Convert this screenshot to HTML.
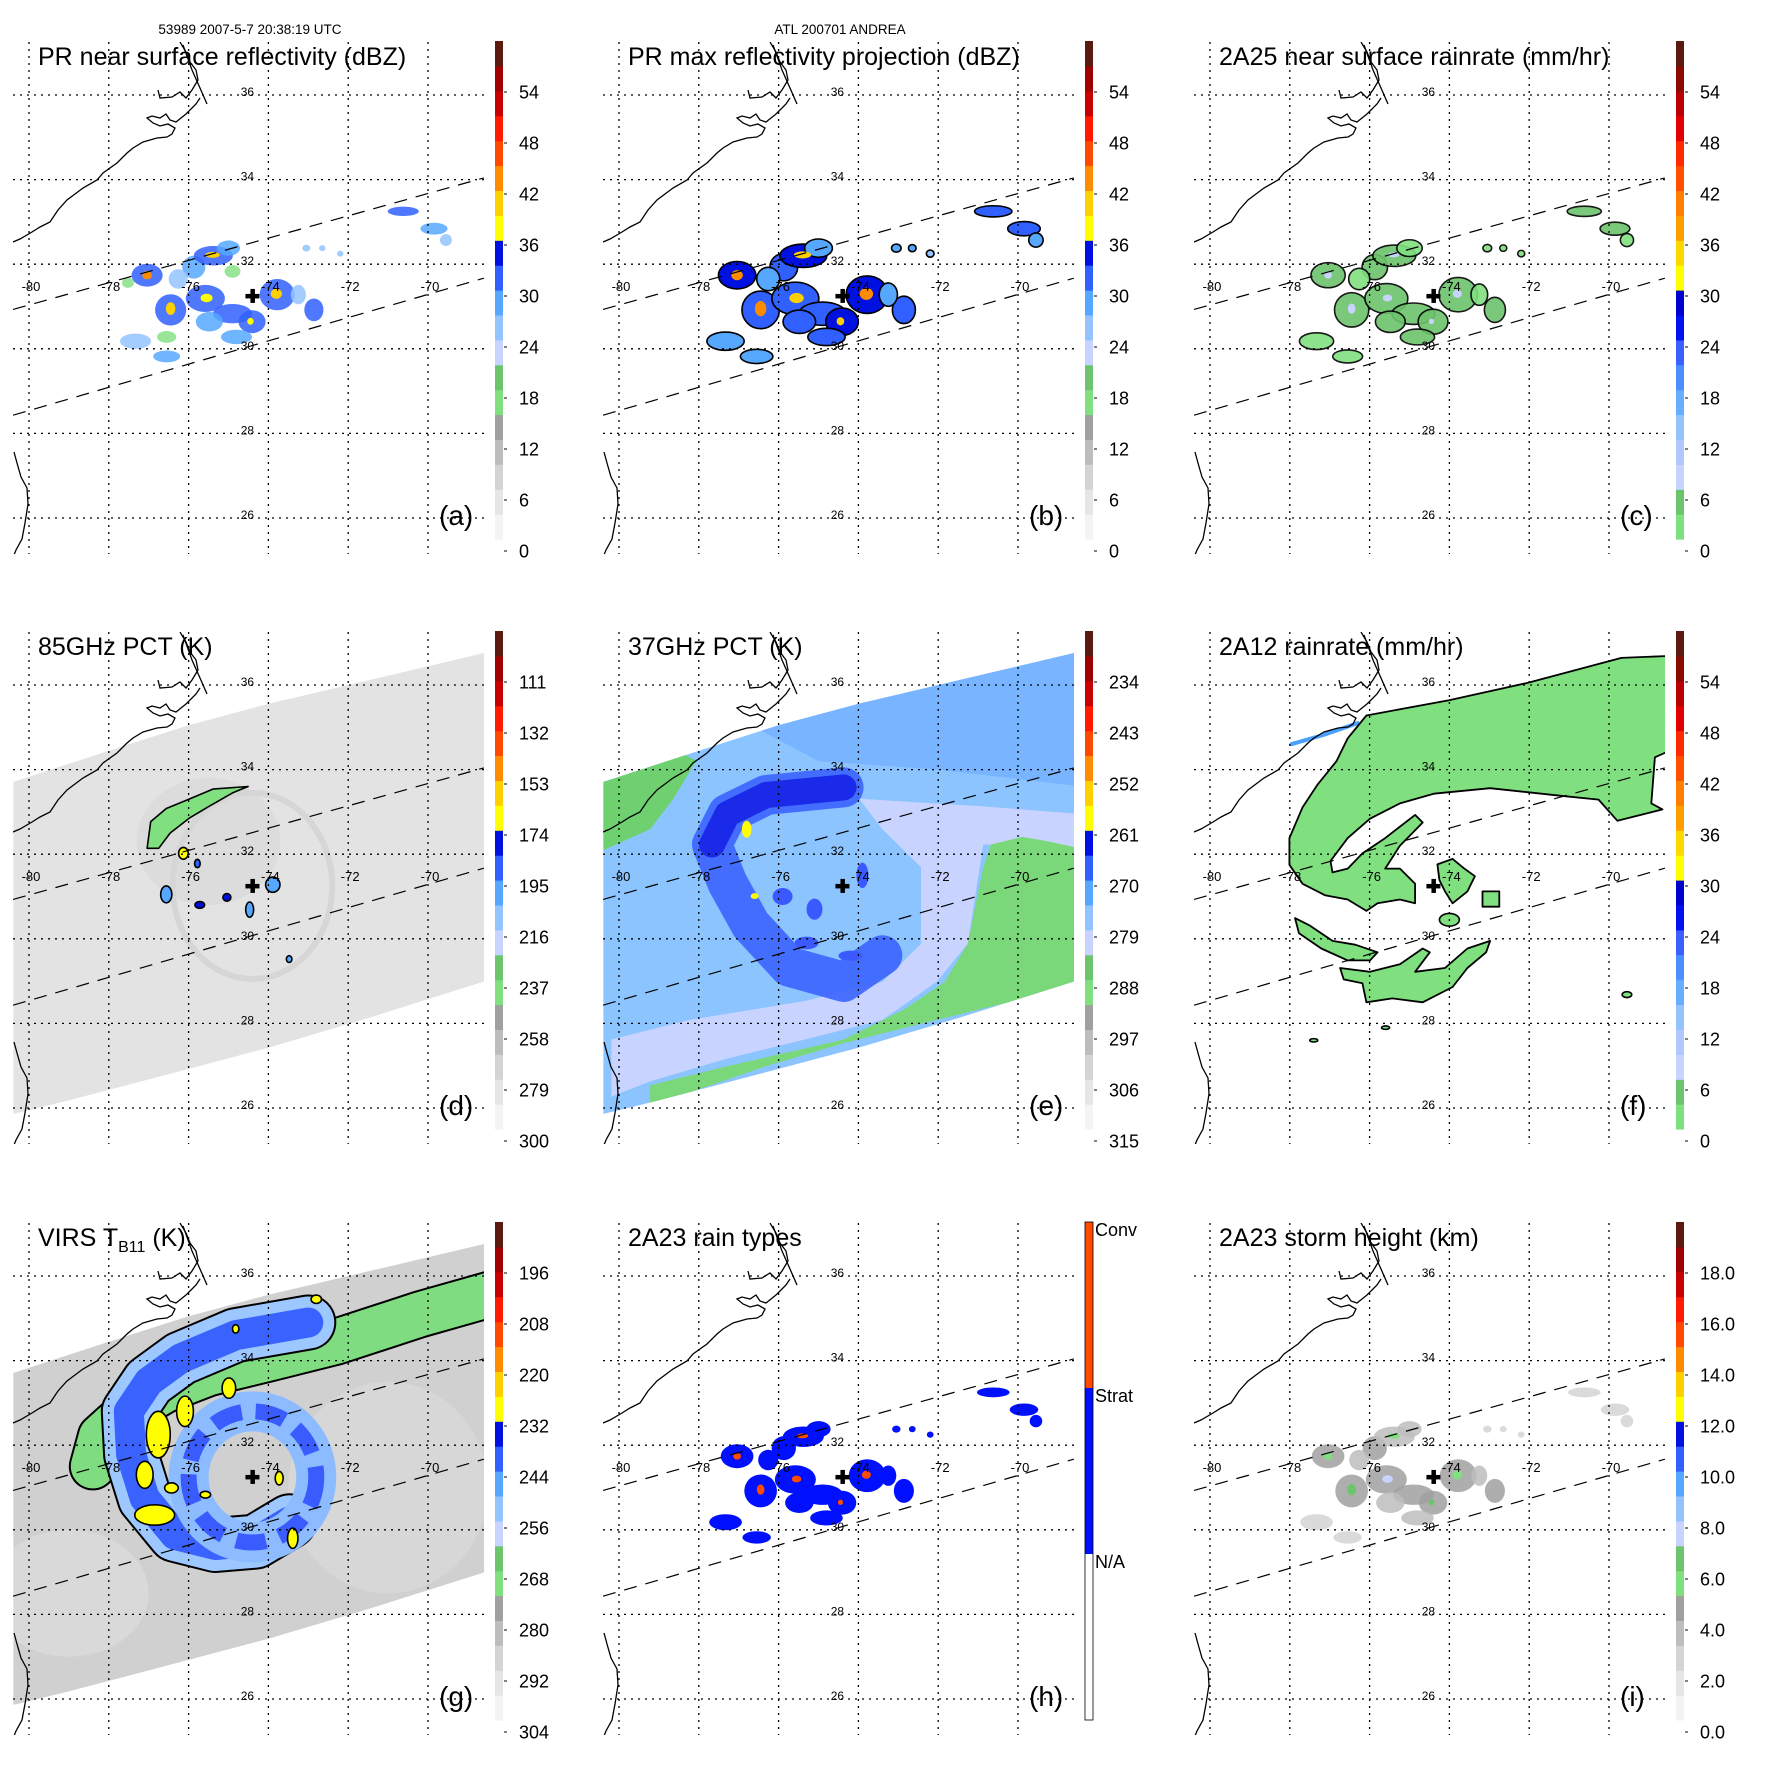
<!DOCTYPE html>
<html>
<head>
<meta charset="utf-8">
<style>
html,body{margin:0;padding:0;background:#fff;}
svg{display:block;font-family:"Liberation Sans",Arial,sans-serif;}
</style>
</head>
<body>
<svg id="chart" width="1771" height="1771" viewBox="0 0 1771 1771" xmlns="http://www.w3.org/2000/svg">
<defs>
<clipPath id="mapclip"><rect x="13" y="42" width="471" height="512"/></clipPath>
<clipPath id="swathclip"><polygon id="swathpoly" points="0,0"/></clipPath>
</defs>
<text x="250" y="34" font-size="13.5" text-anchor="middle">53989 2007-5-7 20:38:19 UTC</text>
<text x="840" y="34" font-size="13.5" text-anchor="middle">ATL 200701 ANDREA</text>
</svg>
<script>
// ---------- axes / ticks ----------
const lonTicks=[-80,-78,-76,-74,-72,-70];
const latTicks=[36,34,32,30,28,26];
const panelTitles=['PR near surface reflectivity (dBZ)','PR max reflectivity projection (dBZ)','2A25 near surface rainrate (mm/hr)','85GHz PCT (K)','37GHz PCT (K)','2A12 rainrate (mm/hr)','VIRS','2A23 rain types','2A23 storm height (km)'];
const panelLetters=['(a)','(b)','(c)','(d)','(e)','(f)','(g)','(h)','(i)'];
const cbLabelsDbz=['0','6','12','18','24','30','36','42','48','54'];
const cbLabelsRain=['0','6','12','18','24','30','36','42','48','54'];
const cbLabels85=['300','279','258','237','216','195','174','153','132','111'];
const cbLabels37=['315','306','297','288','279','270','261','252','243','234'];
const cbLabelsVirs=['304','292','280','268','256','244','232','220','208','196'];
const cbLabelsHeight=['0.0','2.0','4.0','6.0','8.0','10.0','12.0','14.0','16.0','18.0'];
const cbLabelsType=['Conv','Strat','N/A'];
const paletteA=['#f4f4f4','#e6e6e6','#d4d4d4','#bdbdbd','#a0a0a0','#80e080','#6cc46c','#c8d4ff','#94c4ff','#56a8ff','#3060ff','#0010e0','#ffff00','#ffd000','#ff8c00','#ff4800','#ff1a00','#c80000','#a00000','#5a1a10'];
const paletteC=['#80e080','#6cc46c','#c8d4ff','#b0c8ff','#94c4ff','#64b0ff','#4a90ff','#3a60ff','#0010f0','#0000d0','#ffff00','#ffd800','#ff9c00','#ff8000','#ff5000','#ff2a00','#e00000','#b80000','#8a0a00','#5a1a10'];

// ---------- geography ----------
const stormCenter=[-74.4,31.25];
const prSwathUpper=[[-80.4,30.93],[-68.6,34.04]];
const prSwathLower=[[-80.4,28.43],[-68.6,31.67]];
const tmiSwath=[[-80.39,33.71],[-77.95,34.46],[-76.0,35.05],[-73.98,35.56],[-71.45,36.12],[-68.4,36.8],[-68.4,29.05],[-71.45,28.14],[-73.98,27.43],[-76.51,26.8],[-79.04,26.17],[-80.39,25.86]];
const coastPx=[
 [[13,242],[20,239],[32,232],[40,227],[50,222],[58,210],[67,200],[83,188],[97,180],[103,173],[117,163],[127,153],[133,148],[143,142],[157,138],[167,137],[172,134],[175,128],[168,124],[160,126],[153,123],[147,118],[152,116],[160,118],[166,114],[170,120],[176,122],[181,118],[186,114],[190,110],[196,104],[200,98]],
 [[158,90],[160,98],[172,97],[180,92],[186,98],[192,90],[198,80],[196,70],[190,62],[186,52],[180,42]],
 [[183,45],[192,70],[200,88],[207,104]],
 [[14,452],[17,463],[21,477],[27,488],[28,504],[25,523],[22,539],[16,550],[14,555]]
];

// ---------- PR data ----------
const prBlobs=[[-77.04,31.74,0.39,0.27],[-76.45,30.92,0.39,0.37],[-75.87,31.93,0.29,0.27],[-75.38,32.20,0.49,0.23],[-75.58,31.19,0.49,0.32],[-75.00,32.38,0.29,0.18],[-74.90,30.83,0.49,0.23],[-74.41,30.64,0.34,0.27],[-74.80,30.28,0.39,0.17],[-73.78,31.28,0.44,0.37],[-72.86,30.92,0.24,0.27],[-75.48,30.64,0.34,0.23],[-76.55,29.82,0.34,0.14],[-77.33,30.18,0.39,0.18],[-76.26,31.65,0.24,0.23],[-73.25,31.28,0.19,0.23],[-70.62,33.25,0.39,0.11],[-69.85,32.84,0.34,0.14],[-69.55,32.57,0.15,0.14],[-73.05,32.38,0.10,0.08],[-72.65,32.38,0.08,0.07],[-72.2,32.25,0.08,0.07]];
const nearSurfDbz=[31,30,29,31,30,27,30,31,29,32,30,28,27,24,26,25,30,29,26,26,25,24];
const maxProjDbz=[33,32,31,33,32,29,32,33,31,34,32,30,29,27,28,27,32,31,28,28,27,26];
const rainRate2A25=[4,5,3,4,4,2,4,5,3,5,4,3,2,2,2,2,4,3,2,2,1,1];
const rainType=[1,1,1,1,1,1,1,1,1,1,1,1,1,1,1,1,1,1,1,1,1,1];
const stormHeight=[4.5,4,4.2,3.5,4.5,3,4.2,4.5,3.5,4.8,4,3,2.5,2,3,3,2.5,2.5,2,2,2,2];
const prCores=[[-77.04,31.74,0.12,0.10],[-76.45,30.95,0.12,0.15],[-75.40,32.22,0.18,0.07],[-75.55,31.20,0.15,0.10],[-73.80,31.30,0.14,0.12],[-74.45,30.65,0.08,0.08]];
const coreDbz=[42,40,39,38,40,37];
const coreMaxDbz=[44,42,40,41,42,39];
const coreRain=[8,7,6,7,8,6];
const coreType=[2,2,2,2,2,2];
const coreHeight=[5.5,6,5.5,7.5,5.8,6.5];
const lightSpeckles=[[-76.55,30.28,0.24,0.14],[-74.9,31.83,0.2,0.15],[-77.52,31.56,0.15,0.12]];
const lightSpeckleDbz=[17,17,17];

// ---------- 85 GHz ----------
const pct85Band=[[-77.04,32.14],[-76.95,32.77],[-76.56,33.08],[-76.07,33.27],[-75.39,33.54],[-74.51,33.60],[-74.90,33.45],[-75.49,33.13],[-75.97,32.86],[-76.46,32.50],[-76.75,32.14]];
const pct85Cells=[[-76.56,31.05,0.14,0.2],[-74.47,30.69,0.1,0.18],[-73.89,31.28,0.18,0.18],[-75.72,30.80,0.12,0.08],[-75.04,30.98,0.1,0.09],[-76.13,32.02,0.12,0.14],[-75.78,31.78,0.07,0.1],[-73.48,29.52,0.07,0.08]];
const pct85CellK=[235,233,236,220,222,215,225,236];

// ---------- 37 GHz ----------
const pct37Lavender=[[-73.98,33.31],[-70.87,33.13],[-68.45,32.95],[-68.45,32.14],[-70.87,32.23],[-71.26,29.88],[-72.04,28.98],[-73.40,28.08],[-75.34,27.62],[-77.28,27.17],[-79.22,26.63],[-80.19,26.27],[-80.19,27.62],[-78.25,28.08],[-75.34,28.53],[-73.40,28.98],[-72.43,29.88],[-72.43,31.69],[-73.40,32.59]];
const pct37GreenWest=[[-80.5,33.85],[-78.64,34.48],[-78.06,34.21],[-78.64,33.31],[-79.22,32.59],[-80.5,32.05]];
const pct37GreenEast=[[-70.68,32.23],[-69.9,32.41],[-69.32,32.32],[-68.45,32.14],[-68.45,28.89],[-70.49,28.44],[-72.43,27.99],[-74.37,27.53],[-76.31,26.99],[-78.25,26.36],[-79.22,26.09],[-79.22,26.54],[-77.28,26.99],[-74.37,27.62],[-72.82,28.35],[-71.84,28.98],[-71.26,29.88],[-71.07,30.78],[-70.87,31.69]];
const pct37Upper=[[-77.0,35.2],[-68.4,37.0],[-68.4,33.6],[-72.0,34.0],[-75.0,34.2]];
const pct37Arc=[[-74.37,33.58],[-76.31,33.40],[-77.28,32.95],[-77.67,32.23],[-77.28,31.32],[-76.70,30.33],[-75.73,29.34],[-74.37,28.98],[-73.40,29.61]];
const pct37Spots=[[-75.9,31.0,0.25,0.2],[-75.1,30.7,0.2,0.25],[-73.9,31.5,0.15,0.3],[-75.3,29.9,0.3,0.15],[-74.2,29.6,0.3,0.12]];
const pct37Warm=[[-76.80,32.59,0.12,0.2],[-76.60,31.01,0.1,0.07]];

// ---------- 2A12 ----------
const rain2A12Main=[[-76.08,35.28],[-74.01,35.64],[-72.04,36.05],[-69.69,36.64],[-68.42,36.69],[-68.42,34.47],[-68.85,34.29],[-68.94,33.20],[-68.66,33.06],[-69.79,32.79],[-70.26,33.29],[-71.20,33.38],[-72.98,33.56],[-74.39,33.43],[-75.24,33.20],[-75.99,32.84],[-76.55,32.38],[-76.98,31.84],[-76.93,31.57],[-76.55,31.66],[-76.18,32.02],[-75.61,32.38],[-74.86,32.93],[-74.67,32.75],[-75.24,32.20],[-75.61,31.66],[-75.24,31.66],[-74.86,31.30],[-74.86,30.84],[-75.24,30.93],[-75.80,30.84],[-76.08,30.66],[-76.55,30.93],[-77.12,31.03],[-77.68,31.30],[-78.01,31.75],[-78.01,32.38],[-77.68,33.11],[-77.30,33.65],[-76.83,34.20],[-76.55,34.74]];
const rain2A12Core=[[-74.30,31.76],[-73.92,31.89],[-73.64,31.67],[-73.36,31.48],[-73.55,31.12],[-73.92,30.84],[-74.11,31.12],[-74.25,31.39]];
const rain2A12East=[[-73.17,31.12],[-72.75,31.12],[-72.75,30.76],[-73.17,30.76]];
const rain2A12BandA=[[-77.87,30.49],[-77.49,30.31],[-76.93,29.95],[-76.36,29.86],[-75.80,29.68],[-75.99,29.49],[-76.55,29.49],[-77.21,29.77],[-77.77,30.13]];
const rain2A12BandB=[[-76.74,29.31],[-75.99,29.22],[-75.24,29.40],[-74.67,29.77],[-74.49,29.68],[-74.86,29.22],[-74.11,29.31],[-73.55,29.77],[-72.98,29.95],[-73.08,29.68],[-73.55,29.31],[-73.92,28.86],[-74.67,28.50],[-75.43,28.59],[-76.08,28.50],[-76.18,28.95],[-76.65,29.04]];
const rain2A12Small=[[-74.0,30.45,0.25,0.15],[-69.55,28.68,0.12,0.07],[-75.6,27.9,0.1,0.04],[-77.4,27.6,0.1,0.04]];
const rain2A12Coastal=[[-77.96,34.6],[-77.12,34.83],[-76.3,35.1]];

// ---------- VIRS ----------
const virsGreenArc=[[-68.3,35.6],[-70.18,35.1],[-72.29,34.45],[-73.98,34.05],[-75.50,33.7],[-76.6,33.3],[-77.5,32.8],[-78.2,32.2],[-78.4,31.5]];
const virsBlueArc=[[-73.0,34.9],[-74.82,34.6],[-76.2,34.05],[-77.0,33.5],[-77.5,32.8],[-77.44,31.78],[-77.10,30.75],[-76.34,29.88],[-75.33,29.64],[-74.32,29.72],[-73.47,30.20]];
const virsCold=[[-76.09,32.80,0.21,0.36],[-76.76,32.25,0.30,0.55],[-77.10,31.30,0.21,0.32],[-76.85,30.35,0.5,0.24],[-74.99,33.35,0.17,0.24],[-73.73,31.22,0.1,0.16],[-73.39,29.80,0.13,0.24],[-76.43,30.99,0.17,0.12],[-75.58,30.83,0.13,0.08],[-72.80,35.45,0.13,0.1],[-74.82,34.75,0.08,0.1]];
const virsColdK=[230,228,230,229,231,231,230,231,231,231,231];

const NS='http://www.w3.org/2000/svg';
const svg=document.getElementById('chart');
function X(lon){return 29+(lon+80)*39.9;}
function Y(lat){return 95+(36-lat)*42.3;}
function RX(d){return d*39.9;}
function RY(d){return d*42.3;}
function el(tag,attrs,parent){const e=document.createElementNS(NS,tag);for(const k in attrs)e.setAttribute(k,attrs[k]);parent.appendChild(e);return e;}
function pts(arr){return arr.map(p=>X(p[0]).toFixed(1)+','+Y(p[1]).toFixed(1)).join(' ');}
function colA(v,scale){const i=Math.max(0,Math.min(19,Math.floor(v/scale)));return paletteA[i];}
function colC(v){const i=Math.max(0,Math.min(19,Math.floor(v/3)));return paletteC[i];}
document.getElementById('swathpoly').setAttribute('points',pts(tmiSwath));

function ellipses(parent,list,colors,name,stroke,grow,op){
  list.forEach((b,i)=>{
    const g=grow||1;
    const e=el('ellipse',{cx:X(b[0]),cy:Y(b[1]),rx:RX(b[2])*g,ry:RY(b[3])*g,fill:colors[i],opacity:op||1},parent);
    if(stroke){e.setAttribute('stroke','#000');e.setAttribute('stroke-width','1.6');}
    
    
  });
}
function poly(parent,arr,fill,name,stroke,sw){
  const p=el('polygon',{points:pts(arr),fill:fill,'stroke-linejoin':'round'},parent);
  if(stroke){p.setAttribute('stroke',stroke);p.setAttribute('stroke-width',sw||1.5);}
  
  
  return p;
}
function line(parent,arr,color,w,name,op){
  const p=el('polyline',{points:pts(arr),fill:'none',stroke:color,'stroke-width':w,'stroke-linecap':'round','stroke-linejoin':'round',opacity:op||1},parent);
  
  
  return p;
}

function drawCoast(m){
  coastPx.forEach(c=>{
    const p=el('polyline',{points:c.map(q=>q.join(',')).join(' '),fill:'none',stroke:'#000','stroke-width':1.3},m);
    
    
  });
}
function drawGrid(g){
  lonTicks.forEach(lon=>{
    const l=el('line',{x1:X(lon),x2:X(lon),y1:42,y2:554,stroke:'#000','stroke-width':1.3,'stroke-dasharray':'2,5'},g);
    
    
    const t=el('text',{x:X(lon)+2,y:291,'font-size':13,'text-anchor':'middle',fill:'#000'},g);
    t.textContent=String(lon);
    
    
  });
  latTicks.forEach(lat=>{
    const l=el('line',{x1:13,x2:484,y1:Y(lat),y2:Y(lat),stroke:'#000','stroke-width':1.3,'stroke-dasharray':'2,5'},g);
    
    
    const t=el('text',{x:X(-74)-21,y:Y(lat)+1,'font-size':12,'text-anchor':'middle',fill:'#000'},g);
    t.textContent=String(lat);
    
    
  });
}
function drawSwathLines(m){
  [prSwathUpper,prSwathLower].forEach(s=>{
    const l=el('line',{x1:X(s[0][0]),y1:Y(s[0][1]),x2:X(s[1][0]),y2:Y(s[1][1]),stroke:'#000','stroke-width':1.2,'stroke-dasharray':'13,9'},m);
    
    
  });
}
function drawCross(m){
  const cx=X(stormCenter[0]),cy=Y(stormCenter[1]);
  const a=el('rect',{x:cx-7,y:cy-2,width:14,height:4.5,fill:'#000'},m);
  
  
  const b=el('rect',{x:cx-2,y:cy-7,width:4.5,height:14,fill:'#000'},m);
  
  
}
function drawColorbar(g,palette,labels){
  const cb=el('g',{},g);
  
  
  const h=498/20;
  palette.forEach((c,i)=>{
    const r=el('rect',{x:495,y:539-(i+1)*h,width:8,height:h+0.6,fill:c},cb);
    
    
  });
  labels.forEach((lab,k)=>{
    const y=551-k*51;
    const tk=el('line',{x1:504,x2:507,y1:y,y2:y,stroke:'#000','stroke-width':1},cb);
    
    
    const t=el('text',{x:519,y:y+6.5,'font-size':18,fill:'#000'},cb);
    t.textContent=lab;
    
    
  });
}
function drawTypeColorbar(g){
  const cb=el('g',{},g);
  
  
  const seg=166;
  const fills=['#ff4a00','#0010ff','#ffffff'];
  fills.forEach((c,i)=>{
    const r=el('rect',{x:495,y:41+i*seg,width:8,height:seg,fill:c},cb);
    
    
  });
  const o=el('rect',{x:495,y:41,width:8,height:498,fill:'none',stroke:'#000','stroke-width':0.8},cb);
  
  
  cbLabelsType.forEach((lab,i)=>{
    const t=el('text',{x:505,y:41+i*seg+14,'font-size':18,fill:'#000'},cb);
    t.textContent=lab;
    
    
  });
}

// ---------- per-panel drawing ----------
const drawers=[
 function(m){ // a
   ellipses(m,lightSpeckles,lightSpeckleDbz.map(v=>colA(v,3)),'rain-echo',false,1,0.8);
   ellipses(m,prBlobs,nearSurfDbz.map(v=>colA(v,3)),'rain-echo',false,1,0.85);
   ellipses(m,prCores,coreDbz.map(v=>colA(v,3)),'convective-core',false);
 },
 function(m){ // b
   ellipses(m,prBlobs,maxProjDbz.map(v=>colA(v,3)),'rain-echo',true,1.2);
   ellipses(m,prCores,coreMaxDbz.map(v=>colA(v,3)),'convective-core',false,1.2);
 },
 function(m){ // c
   ellipses(m,prBlobs,rainRate2A25.map(v=>colC(v)),'rain-area',true,1.1,0.9);
   ellipses(m,prCores,coreRain.map(v=>colC(v)),'heavy-rain-core',false,0.8);
 },
 function(m){ // d
   poly(m,tmiSwath,'#e3e3e3','tmi-swath');
   const r=el('ellipse',{cx:X(stormCenter[0]),cy:Y(stormCenter[1]),rx:RX(2.0),ry:RY(2.2),fill:'none',stroke:'#cdcdcd','stroke-width':6,opacity:0.6},m);
   
   
   const r2=el('ellipse',{cx:X(-75.5),cy:Y(32.3),rx:RX(1.8),ry:RY(1.5),fill:'#d6d6d6',opacity:0.5},m);
   
   
   poly(m,pct85Band,'#80e080','ice-scattering-band','#000',1.6);
   ellipses(m,pct85Cells,pct85CellK.map(v=>colA(300-v,7)),'ice-scattering-cell',true);
 },
 function(m){ // e
   poly(m,tmiSwath,'#8cc4ff','tmi-swath');
   const s=el('g',{'clip-path':'url(#swathclip)'},m);
   
   
   poly(s,pct37Upper,'#78b4ff','upper-rain-region');
   poly(s,pct37Lavender,'#c8d4ff','warm-rain-region');
   poly(s,pct37GreenWest,'#6fd06f','land-region');
   poly(s,pct37GreenEast,'#7ad87a','cool-region');
   line(s,pct37Arc,'#3a64ff',40,'rainband-arc',0.9);
   line(s,pct37Arc.slice(0,4),'#1a2ae8',26,'rainband-arc-core');
   ellipses(s,pct37Spots,pct37Spots.map(()=> '#3a5aff'),'emission-spot',false);
   ellipses(s,pct37Warm,pct37Warm.map(()=> '#ffff00'),'emission-max',false);
 },
 function(m){ // f
   line(m,rain2A12Coastal,'#4aa0ff',4,'coastal-rain-streak');
   [rain2A12Main,rain2A12Core,rain2A12East,rain2A12BandA,rain2A12BandB].forEach(a=>poly(m,a,'#80e080','rain-region','#000',1.8));
   ellipses(m,rain2A12Small,rain2A12Small.map(()=> '#80e080'),'rain-cell',true);
 },
 function(m){ // g
   poly(m,tmiSwath,'#d0d0d0','virs-swath');
   const s=el('g',{'clip-path':'url(#swathclip)'},m);
   
   
   const lt=el('ellipse',{cx:X(-71),cy:Y(31),rx:RX(2.5),ry:RY(2.5),fill:'#dcdcdc',opacity:0.6},s);
   
   
   const lt2=el('ellipse',{cx:X(-79),cy:Y(28.5),rx:RX(2),ry:RY(1.5),fill:'#e0e0e0',opacity:0.6},s);
   
   
   line(s,virsGreenArc,'#000',48,'cloud-band-outline');
   line(s,virsGreenArc,'#80dc80',44,'cloud-band');
   line(s,virsBlueArc,'#000',56,'cold-band-outline');
   line(s,virsBlueArc,'#9cc8ff',52,'cold-band-outer');
   line(s,virsBlueArc,'#3a62ff',30,'cold-band');
   const er=el('ellipse',{cx:X(stormCenter[0]),cy:Y(stormCenter[1]),rx:RX(1.6),ry:RY(1.55),fill:'none',stroke:'#8cbcff','stroke-width':40},s);
   
   
   const er2=el('ellipse',{cx:X(stormCenter[0]),cy:Y(stormCenter[1]),rx:RX(1.6),ry:RY(1.55),fill:'none',stroke:'#3a5cff','stroke-width':16,'stroke-dasharray':'30,14'},s);
   
   
   ellipses(s,virsCold,virsColdK.map(()=> '#ffff00'),'cold-cloud-top',true);
 },
 function(m){ // h
   ellipses(m,prBlobs,rainType.map(t=>t===2?'#ff4a00':'#0010ff'),'stratiform-rain',false,1.05);
   ellipses(m,prCores,coreType.map(t=>t===2?'#ff4a00':'#0010ff'),'convective-rain',false,0.8);
 },
 function(m){ // i
   ellipses(m,prBlobs,stormHeight.map(v=>colA(v,1)),'echo-top',false,1.05,0.85);
   ellipses(m,prCores,coreHeight.map(v=>colA(v,1)),'deep-echo-top',false,0.9);
 }
];
const cbLabels=[cbLabelsDbz,cbLabelsDbz,cbLabelsRain,cbLabels85,cbLabels37,cbLabelsRain,cbLabelsVirs,null,cbLabelsHeight];
const cbPalettes=[paletteA,paletteA,paletteC,paletteA,paletteA,paletteC,paletteA,null,paletteA];
const offsets=[0,590,1181];
const panelNames=['pr-near-surface-panel','pr-max-projection-panel','2a25-rainrate-panel','85ghz-pct-panel','37ghz-pct-panel','2a12-rainrate-panel','virs-tb11-panel','2a23-rain-type-panel','2a23-storm-height-panel'];

for(let i=0;i<9;i++){
  const g=el('g',{transform:`translate(${offsets[i%3]},${offsets[Math.floor(i/3)]})`},svg);
  
  
  const m=el('g',{'clip-path':'url(#mapclip)'},g);
  
  
  drawers[i](m);
  drawCoast(m);
  drawSwathLines(m);
  drawGrid(g);
  drawCross(m);
  if(i===7) drawTypeColorbar(g); else drawColorbar(g,cbPalettes[i],cbLabels[i]);
  const t=el('text',{x:38,y:65,'font-size':25,fill:'#000'},g);
  if(i===6){
    t.textContent='VIRS T';
    const s=el('tspan',{'font-size':16,dy:6},t);
    s.textContent='B11';
    const s2=el('tspan',{dy:-6},t);
    s2.textContent=' (K)';
  } else t.textContent=panelTitles[i];
  
  
  const lt=el('text',{x:439,y:525,'font-size':28,fill:'#000'},g);
  lt.textContent=panelLetters[i];
  
  
}
</script>
</body>
</html>
